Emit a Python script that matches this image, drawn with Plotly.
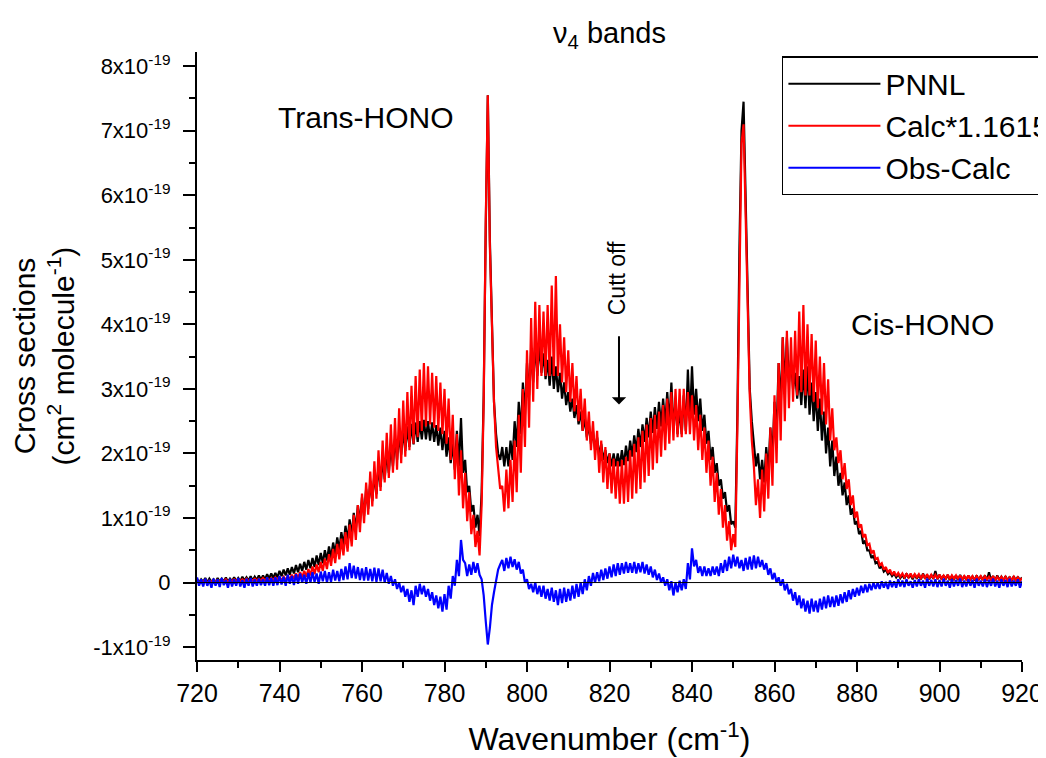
import numpy as np
import plotly.graph_objects as go

# Sampling grid (cm-1): 720 ... 920 every 0.5 cm-1
wn_start, wn_stop, wn_step = 720.0, 920.0, 0.5

# Cross sections in units of 1e-19 cm2/molecule
# (each row spans 5 cm-1, alternating fine-structure maxima / minima)
pnnl = [
    .06, .00, .05, .01, .07, .00, .06, .01, .05, .00,
    .07, .01, .06, .01, .08, .01, .06, .02, .08, .02,
    .07, .02, .09, .03, .08, .03, .10, .03, .09, .04,
    .11, .04, .11, .05, .13, .06, .14, .07, .15, .08,
    .18, .10, .20, .11, .22, .12, .24, .14, .27, .16,
    .29, .18, .32, .20, .35, .22, .38, .24, .42, .27,
    .46, .30, .50, .34, .56, .38, .62, .44, .70, .50,
    .78, .57, .88, .64, .98, .72, 1.08, .82, 1.20, .92,
    1.32, 1.03, 1.45, 1.14, 1.57, 1.26, 1.68, 1.37, 1.80, 1.48,
    1.92, 1.60, 2.02, 1.70, 2.12, 1.80, 2.22, 1.90, 2.30, 1.98,
    2.36, 2.04, 2.42, 2.10, 2.46, 2.14, 2.48, 2.18, 2.50, 2.22,
    2.52, 2.22, 2.50, 2.20, 2.48, 2.18, 2.44, 2.12, 2.40, 2.05,
    2.35, 1.95, 2.25, 1.85, 2.15, 1.75, 2.35, 1.80, 2.55, 1.70,
    1.90, 1.40, 1.50, 1.10, 1.20, 0.85, 1.05, 0.72, 1.40, 2.90,
    5.50, 7.55, 5.30, 3.80, 2.80, 2.30, 2.00, 1.90, 2.10, 1.80,
    2.10, 1.80, 2.20, 1.90, 2.50, 2.10, 2.80, 2.30, 3.10, 2.60,
    3.40, 2.90, 3.60, 3.10, 3.70, 3.20, 3.70, 3.25, 3.55, 3.15,
    3.45, 3.05, 3.50, 3.00, 3.35, 2.95, 3.25, 2.85, 3.10, 2.75,
    2.95, 2.65, 2.85, 2.55, 2.75, 2.45, 2.65, 2.35, 2.55, 2.25,
    2.45, 2.15, 2.35, 2.05, 2.25, 1.95, 2.15, 1.90, 2.05, 1.85,
    2.00, 1.80, 2.00, 1.80, 2.00, 1.80, 2.05, 1.82, 2.12, 1.88,
    2.20, 1.95, 2.28, 2.02, 2.38, 2.10, 2.45, 2.18, 2.55, 2.25,
    2.65, 2.32, 2.72, 2.38, 2.80, 2.42, 2.85, 2.45, 2.95, 2.45,
    3.10, 2.40, 2.80, 2.30, 2.70, 2.30, 2.90, 2.35, 3.30, 2.50,
    3.35, 2.60, 3.00, 2.50, 2.85, 2.35, 2.60, 2.15, 2.35, 1.90,
    2.10, 1.70, 1.85, 1.50, 1.60, 1.30, 1.40, 1.10, 1.20, 0.90,
    0.95, 0.85, 2.60, 5.20, 7.00, 7.45, 5.80, 4.20, 3.00, 2.50,
    2.20, 1.80, 2.00, 1.60, 1.90, 1.55, 2.10, 1.70, 2.40, 1.95,
    2.80, 2.30, 3.40, 2.70, 3.80, 3.00, 3.80, 3.10, 3.45, 3.00,
    3.25, 2.85, 3.20, 2.75, 3.30, 2.70, 3.35, 2.60, 3.10, 2.50,
    2.95, 2.35, 2.85, 2.20, 2.65, 2.00, 2.40, 1.80, 2.20, 1.65,
    1.95, 1.50, 1.70, 1.35, 1.55, 1.20, 1.35, 1.05, 1.15, 0.90,
    0.95, 0.75, 0.80, 0.60, 0.65, 0.50, 0.50, 0.38, 0.42, 0.30,
    0.32, 0.22, 0.26, 0.17, 0.20, 0.13, 0.16, 0.10, 0.14, 0.08,
    0.13, 0.07, 0.12, 0.06, 0.14, 0.07, 0.12, 0.05, 0.13, 0.06,
    0.12, 0.05, 0.14, 0.06, 0.11, 0.05, 0.12, 0.06, 0.18, 0.05,
    0.12, 0.05, 0.11, 0.05, 0.12, 0.04, 0.10, 0.05, 0.11, 0.04,
    0.12, 0.04, 0.10, 0.04, 0.11, 0.05, 0.10, 0.03, 0.11, 0.04,
    0.10, 0.04, 0.11, 0.03, 0.16, 0.04, 0.10, 0.03, 0.11, 0.04,
    0.09, 0.03, 0.10, 0.03, 0.09, 0.02, 0.10, 0.03, 0.09, 0.03,
    0.08,
]

calc = [
    .03, .00, .03, .01, .04, .00, .03, .01, .04, .01,
    .04, .01, .04, .01, .05, .01, .04, .02, .05, .02,
    .05, .02, .05, .02, .06, .02, .05, .03, .06, .03,
    .06, .03, .07, .03, .07, .03, .07, .04, .08, .04,
    .08, .04, .09, .04, .10, .05, .12, .06, .14, .07,
    .16, .08, .18, .09, .21, .11, .25, .13, .28, .16,
    .32, .18, .37, .21, .44, .26, .52, .30, .60, .36,
    .68, .42, .78, .48, .90, .56, 1.05, .66, 1.20, .78,
    1.38, .92, 1.55, 1.05, 1.72, 1.18, 1.88, 1.30, 2.05, 1.42,
    2.20, 1.55, 2.32, 1.62, 2.45, 1.70, 2.55, 1.75, 2.70, 1.85,
    2.82, 1.95, 2.95, 2.05, 3.05, 2.15, 3.20, 2.25, 3.30, 2.35,
    3.40, 2.42, 3.35, 2.45, 3.25, 2.40, 3.20, 2.35, 3.10, 2.30,
    3.00, 2.15, 2.85, 1.90, 2.60, 1.60, 2.30, 1.35, 2.05, 1.15,
    1.70, 0.95, 1.40, 0.75, 1.05, 0.55, 0.80, 0.42, 1.20, 2.80,
    5.60, 7.55, 5.20, 3.80, 2.80, 2.10, 1.75, 1.45, 1.50, 1.10,
    1.75, 1.15, 1.90, 1.25, 2.20, 1.40, 2.60, 1.70, 3.00, 2.10,
    3.60, 2.40, 4.10, 2.80, 4.35, 3.00, 4.30, 3.20, 4.20, 3.20,
    4.30, 3.20, 4.60, 3.20, 4.75, 3.20, 4.00, 3.10, 3.80, 2.95,
    3.60, 2.80, 3.40, 2.65, 3.20, 2.50, 3.00, 2.35, 2.85, 2.20,
    2.65, 2.05, 2.50, 1.90, 2.35, 1.70, 2.20, 1.55, 2.10, 1.45,
    2.00, 1.38, 1.92, 1.30, 1.88, 1.22, 1.90, 1.22, 1.95, 1.25,
    2.05, 1.30, 2.15, 1.38, 2.25, 1.45, 2.35, 1.55, 2.45, 1.65,
    2.55, 1.75, 2.60, 1.85, 2.65, 1.95, 2.75, 2.05, 2.85, 2.15,
    2.95, 2.20, 3.00, 2.25, 3.00, 2.25, 3.00, 2.30, 2.95, 2.30,
    2.90, 2.20, 2.75, 2.05, 2.60, 1.90, 2.40, 1.70, 2.20, 1.50,
    1.95, 1.25, 1.70, 1.05, 1.45, 0.85, 1.20, 0.65, 0.95, 0.50,
    0.75, 0.55, 2.40, 5.00, 6.80, 7.10, 5.60, 4.10, 2.90, 2.20,
    1.80, 1.20, 1.60, 1.00, 1.75, 1.10, 2.00, 1.30, 2.40, 1.50,
    2.90, 1.85, 3.40, 2.20, 3.80, 2.50, 3.90, 2.70, 3.80, 2.80,
    3.90, 2.90, 4.20, 2.95, 4.30, 2.90, 4.00, 2.90, 3.85, 2.80,
    3.75, 2.70, 3.50, 2.60, 3.40, 2.45, 3.15, 2.20, 2.70, 2.05,
    2.25, 1.85, 2.05, 1.60, 1.85, 1.45, 1.60, 1.20, 1.35, 1.00,
    1.10, 0.85, 0.90, 0.70, 0.75, 0.58, 0.60, 0.45, 0.50, 0.36,
    0.38, 0.27, 0.30, 0.20, 0.24, 0.15, 0.20, 0.12, 0.17, 0.10,
    0.15, 0.09, 0.14, 0.08, 0.13, 0.08, 0.14, 0.07, 0.13, 0.08,
    0.13, 0.07, 0.12, 0.07, 0.13, 0.06, 0.12, 0.07, 0.12, 0.06,
    0.12, 0.06, 0.11, 0.06, 0.12, 0.05, 0.11, 0.06, 0.11, 0.05,
    0.11, 0.05, 0.10, 0.05, 0.11, 0.05, 0.10, 0.04, 0.10, 0.05,
    0.10, 0.04, 0.10, 0.05, 0.09, 0.04, 0.10, 0.04, 0.09, 0.04,
    0.09, 0.04, 0.09, 0.03, 0.08, 0.04, 0.09, 0.03, 0.08, 0.03,
    0.07,
]

obs_calc = [
    .08, -.05, .05, -.06, .06, -.05, .04, -.08, .06, -.05,
    .05, -.07, .07, -.04, .04, -.08, .06, -.06, .05, -.05,
    .07, -.06, .04, -.08, .06, -.05, .07, -.06, .05, -.05,
    .06, -.04, .05, -.05, .08, -.04, .07, -.05, .08, -.04,
    .10, -.03, .09, -.05, .12, -.02, .10, -.04, .13, -.02,
    .14, .00, .12, -.02, .15, .00, .16, .01, .14, -.02,
    .17, .02, .18, .00, .16, .01, .20, .03, .18, .02,
    .21, .04, .25, .05, .30, .07, .26, .06, .24, .04,
    .22, .03, .24, .03, .21, .02, .23, .01, .22, .02,
    .20, .00, .15, -.02, .10, -.05, .05, -.10, .00, -.15,
    -.05, -.22, -.10, -.30, -.12, -.35, -.05, -.22, -.02, -.18,
    -.05, -.22, -.10, -.28, -.15, -.35, -.20, -.40, -.22, -.45,
    -.18, -.42, -.05, -.25, .10, -.05, .35, .10, .66, .35,
    .30, .10, .28, .12, .32, .15, .30, .12, .05, -.20,
    -.60, -.96, -.70, -.35, -.15, .05, .20, .28, .35, .18,
    .38, .22, .40, .24, .36, .20, .32, .14, .20, .00,
    .05, -.10, -.02, -.15, .00, -.18, -.05, -.22, -.05, -.25,
    -.10, -.28, -.08, -.30, -.12, -.35, -.10, -.32, -.08, -.30,
    -.10, -.28, -.05, -.25, -.02, -.22, .00, -.18, .05, -.12,
    .10, -.05, .15, .00, .16, .02, .20, .04, .22, .06,
    .25, .08, .28, .10, .30, .12, .30, .14, .32, .15,
    .30, .15, .32, .14, .30, .16, .32, .14, .28, .12,
    .25, .08, .20, .04, .14, .00, .08, -.05, .05, -.12,
    .02, -.20, .00, -.15, .03, -.12, .05, -.10, .30, .05,
    .53, .25, .35, .15, .25, .10, .25, .10, .22, .10,
    .25, .12, .25, .10, .30, .15, .35, .18, .40, .22,
    .43, .25, .40, .22, .35, .18, .38, .20, .40, .20,
    .42, .22, .40, .24, .35, .20, .30, .12, .22, .05,
    .15, .00, .08, -.05, .05, -.12, -.02, -.18, -.10, -.28,
    -.15, -.35, -.20, -.40, -.25, -.45, -.28, -.48, -.25, -.45,
    -.28, -.46, -.25, -.42, -.22, -.40, -.20, -.38, -.22, -.38,
    -.20, -.36, -.18, -.32, -.15, -.30, -.12, -.26, -.10, -.22,
    -.08, -.20, -.05, -.16, -.03, -.15, -.02, -.12, .00, -.10,
    .00, -.10, .02, -.08, .01, -.10, .03, -.07, .02, -.08,
    .05, -.06, .03, -.07, .05, -.05, .02, -.08, .04, -.06,
    .05, -.05, .03, -.08, .06, -.05, .04, -.06, .05, -.07,
    .04, -.06, .06, -.05, .03, -.08, .05, -.06, .04, -.05,
    .06, -.07, .03, -.06, .05, -.05, .04, -.08, .06, -.05,
    .03, -.06, .05, -.07, .04, -.05, .06, -.06, .03, -.08,
    .05, -.05, .04, -.07, .06, -.06, .03, -.05, .05, -.08,
    .02,
]

y_tick_values = [-1, 0, 1, 2, 3, 4, 5, 6, 7, 8]
y_tick_labels = ["-1x10<sup>-19</sup>", "0", "1x10<sup>-19</sup>", "2x10<sup>-19</sup>",
                 "3x10<sup>-19</sup>", "4x10<sup>-19</sup>", "5x10<sup>-19</sup>",
                 "6x10<sup>-19</sup>", "7x10<sup>-19</sup>", "8x10<sup>-19</sup>"]
x_tick_values = [720, 740, 760, 780, 800, 820, 840, 860, 880, 900, 920]

UNIT = 1e-19
wavenumber = np.arange(wn_start, wn_stop + wn_step / 2, wn_step)
for s in (pnnl, calc, obs_calc):
    assert len(s) == len(wavenumber), len(s)

FONT = "Arial, Liberation Sans, sans-serif"

fig = go.Figure()
fig.add_trace(go.Scatter(x=wavenumber, y=np.array(pnnl) * UNIT, mode="lines", name="PNNL",
                         line=dict(color="black", width=2.2)))
fig.add_trace(go.Scatter(x=wavenumber, y=np.array(calc) * UNIT, mode="lines", name="Calc*1.1615",
                         line=dict(color="#ff0000", width=2.2)))
fig.add_trace(go.Scatter(x=wavenumber, y=np.array(obs_calc) * UNIT, mode="lines", name="Obs-Calc",
                         line=dict(color="#0000ff", width=2.2)))

# zero reference line
fig.add_shape(type="line", xref="x", yref="y", x0=wn_start, x1=wn_stop, y0=0, y1=0,
              line=dict(color="black", width=1), layer="above")

fig.add_annotation(x=761, y=7.2 * UNIT, text="Trans-HONO", showarrow=False,
                   font=dict(size=30, color="black", family=FONT))
fig.add_annotation(x=895.8, y=4.0 * UNIT, text="Cis-HONO", showarrow=False,
                   font=dict(size=30, color="black", family=FONT))
fig.add_annotation(x=821.9, y=4.72 * UNIT, text="Cutt off", showarrow=False, textangle=-90,
                   font=dict(size=23, color="black", family=FONT))
fig.add_annotation(x=822.3, y=2.76 * UNIT, ax=822.3, ay=3.84 * UNIT, axref="x", ayref="y",
                   text="", showarrow=True, arrowhead=1, arrowsize=1.2, arrowwidth=2,
                   arrowcolor="black")

fig.update_layout(
    width=1038, height=750,
    margin=dict(l=189, r=24, t=44, b=98, autoexpand=False),
    paper_bgcolor="white", plot_bgcolor="white",
    font=dict(family=FONT, color="black"),
    title=dict(text="ν<sub>4</sub> bands", x=0.5, xref="paper", y=1 - 25 / 750,
               yref="container", xanchor="center", yanchor="middle",
               font=dict(size=29, family=FONT, color="black")),
    showlegend=True,
    legend=dict(x=0.709, y=0.993, xanchor="left", yanchor="top",
                bordercolor="black", borderwidth=1.5, bgcolor="white",
                font=dict(size=30, family=FONT), itemwidth=92,
                tracegroupgap=0),
)
fig.update_xaxes(range=[wn_start, wn_stop], showline=True, linecolor="black", linewidth=2,
                 showgrid=False, zeroline=False, ticks="outside", ticklen=10, tickwidth=2,
                 tickcolor="black", tickvals=x_tick_values, tickfont=dict(size=25, family=FONT),
                 minor=dict(tickmode="linear", tick0=720, dtick=10, ticks="outside",
                            ticklen=6, tickwidth=2, tickcolor="black"),
                 title=dict(text="Wavenumber (cm<sup>-1</sup>)", font=dict(size=32, family=FONT),
                            standoff=22))
fig.update_yaxes(range=[-1.2 * UNIT, 8.22 * UNIT], showline=True, linecolor="black", linewidth=2,
                 showgrid=False, zeroline=False, ticks="outside", ticklen=12, tickwidth=2,
                 tickcolor="black", tickvals=[v * UNIT for v in y_tick_values],
                 ticktext=y_tick_labels, tickfont=dict(size=22, family=FONT),
                 ticklabelstandoff=8,
                 minor=dict(tickmode="linear", tick0=0, dtick=0.5 * UNIT, ticks="outside",
                            ticklen=6, tickwidth=2, tickcolor="black"),
                 title=dict(text="Cross sections<br>(cm<sup>2</sup> molecule<sup>-1</sup>)",
                            font=dict(size=30, family=FONT), standoff=10))

fig.write_html("out.html")
